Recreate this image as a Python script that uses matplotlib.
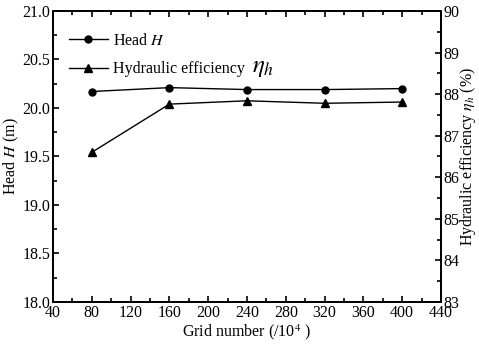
import matplotlib
matplotlib.use("Agg")
import matplotlib.pyplot as plt
from matplotlib.ticker import MultipleLocator

plt.rcParams["font.family"] = ["Liberation Serif", "DejaVu Serif"]
plt.rcParams["mathtext.fontset"] = "stix"
plt.rcParams["font.size"] = 11.5

# Grid independence data
grid_number = [80, 160, 240, 320, 400]
head = [20.17, 20.21, 20.19, 20.19, 20.20]
efficiency = [86.60, 87.76, 87.84, 87.78, 87.81]

fig = plt.figure(figsize=(4.79, 3.48), dpi=100)
ax = fig.add_axes([0.1106, 0.1322, 0.8101, 0.8362])
ax2 = ax.twinx()

l1, = ax.plot(grid_number, head, color="black", lw=1.0, marker="o", ms=5,
              label="Head $H$")
l2, = ax2.plot(grid_number, efficiency, color="black", lw=1.0, marker="^", ms=6,
               label="Hydraulic efficiency")

ax.set_xlim(40, 440)
ax.set_ylim(18.0, 21.0)
ax2.set_ylim(83, 90)

ax.xaxis.set_major_locator(MultipleLocator(40))
ax.xaxis.set_minor_locator(MultipleLocator(20))
ax.yaxis.set_major_locator(MultipleLocator(0.5))
ax.yaxis.set_minor_locator(MultipleLocator(0.25))
ax2.yaxis.set_major_locator(MultipleLocator(1))
ax2.yaxis.set_minor_locator(MultipleLocator(0.5))
ax.yaxis.set_major_formatter(lambda v, p: f"{v:.1f}")

ax.tick_params(which="both", direction="in", top=True, right=False, width=1.2)
ax.tick_params(which="major", length=4, pad=2)
ax.tick_params(which="minor", length=3)
ax2.tick_params(which="both", direction="in", width=1.2, pad=2)
ax2.tick_params(which="major", length=4)
ax2.tick_params(which="minor", length=3)

for a in (ax, ax2):
    for s in a.spines.values():
        s.set_linewidth(1.3)

ax.set_xlabel("Grid number (/10$^4$ )", labelpad=1)
ax.set_ylabel("Head $H$ (m)", labelpad=1)
ax2.set_ylabel(r"Hydraulic efficiency $\eta_h$ (%)", labelpad=-1)

ax.legend(handles=[l1, l2], loc="upper left", frameon=False,
          bbox_to_anchor=(0.005, 0.975), handlelength=2.4, labelspacing=0.8,
          handletextpad=0.35)
fig.text(0.527, 0.805, r"$\eta_h$", fontsize=18, ha="left", va="center")

fig.savefig("out.png", dpi=100)
